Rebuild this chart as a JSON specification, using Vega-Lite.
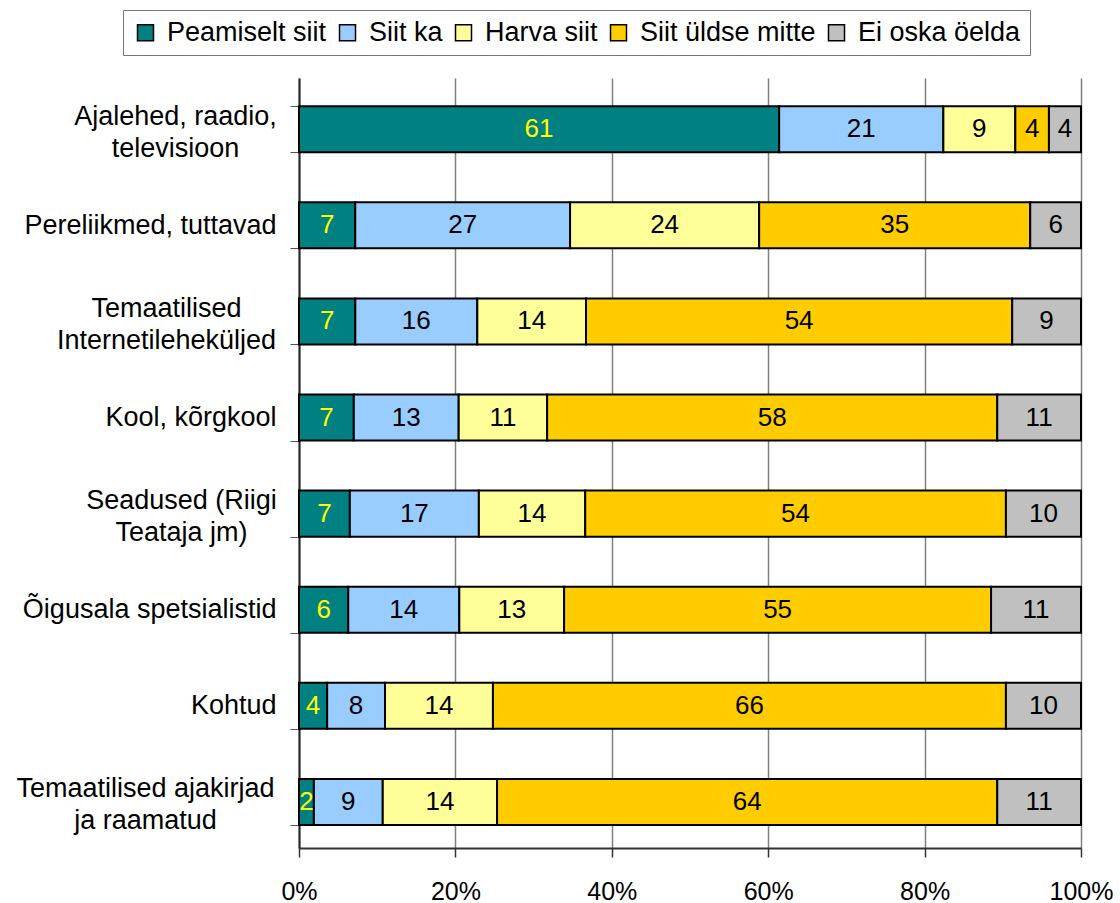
{
  "$schema": "https://vega.github.io/schema/vega-lite/v6.json",
  "autosize": {"type": "none"},
  "padding": {"left": 299, "top": 78, "right": 39, "bottom": 55},
  "width": 782,
  "height": 770,
  "background": "white",
  "config": {"font": "Liberation Sans", "view": {"stroke": null}},
  "data": {"values": [
    {"c": "Ajalehed, raadio,|televisioon", "s": "Peamiselt siit", "o": 1, "v": 61.4, "t": "61"},
    {"c": "Ajalehed, raadio,|televisioon", "s": "Siit ka", "o": 2, "v": 21.0, "t": "21"},
    {"c": "Ajalehed, raadio,|televisioon", "s": "Harva siit", "o": 3, "v": 9.2, "t": "9"},
    {"c": "Ajalehed, raadio,|televisioon", "s": "Siit üldse mitte", "o": 4, "v": 4.3, "t": "4"},
    {"c": "Ajalehed, raadio,|televisioon", "s": "Ei oska öelda", "o": 5, "v": 4.1, "t": "4"},
    {"c": "Pereliikmed, tuttavad", "s": "Peamiselt siit", "o": 1, "v": 7.2, "t": "7"},
    {"c": "Pereliikmed, tuttavad", "s": "Siit ka", "o": 2, "v": 27.5, "t": "27"},
    {"c": "Pereliikmed, tuttavad", "s": "Harva siit", "o": 3, "v": 24.2, "t": "24"},
    {"c": "Pereliikmed, tuttavad", "s": "Siit üldse mitte", "o": 4, "v": 34.7, "t": "35"},
    {"c": "Pereliikmed, tuttavad", "s": "Ei oska öelda", "o": 5, "v": 6.5, "t": "6"},
    {"c": "Temaatilised|Internetileheküljed", "s": "Peamiselt siit", "o": 1, "v": 7.2, "t": "7"},
    {"c": "Temaatilised|Internetileheküljed", "s": "Siit ka", "o": 2, "v": 15.6, "t": "16"},
    {"c": "Temaatilised|Internetileheküljed", "s": "Harva siit", "o": 3, "v": 13.9, "t": "14"},
    {"c": "Temaatilised|Internetileheküljed", "s": "Siit üldse mitte", "o": 4, "v": 54.5, "t": "54"},
    {"c": "Temaatilised|Internetileheküljed", "s": "Ei oska öelda", "o": 5, "v": 8.8, "t": "9"},
    {"c": "Kool, kõrgkool", "s": "Peamiselt siit", "o": 1, "v": 7.0, "t": "7"},
    {"c": "Kool, kõrgkool", "s": "Siit ka", "o": 2, "v": 13.4, "t": "13"},
    {"c": "Kool, kõrgkool", "s": "Harva siit", "o": 3, "v": 11.3, "t": "11"},
    {"c": "Kool, kõrgkool", "s": "Siit üldse mitte", "o": 4, "v": 57.5, "t": "58"},
    {"c": "Kool, kõrgkool", "s": "Ei oska öelda", "o": 5, "v": 10.7, "t": "11"},
    {"c": "Seadused (Riigi|Teataja jm)", "s": "Peamiselt siit", "o": 1, "v": 6.5, "t": "7"},
    {"c": "Seadused (Riigi|Teataja jm)", "s": "Siit ka", "o": 2, "v": 16.5, "t": "17"},
    {"c": "Seadused (Riigi|Teataja jm)", "s": "Harva siit", "o": 3, "v": 13.6, "t": "14"},
    {"c": "Seadused (Riigi|Teataja jm)", "s": "Siit üldse mitte", "o": 4, "v": 53.8, "t": "54"},
    {"c": "Seadused (Riigi|Teataja jm)", "s": "Ei oska öelda", "o": 5, "v": 9.6, "t": "10"},
    {"c": "Õigusala spetsialistid", "s": "Peamiselt siit", "o": 1, "v": 6.3, "t": "6"},
    {"c": "Õigusala spetsialistid", "s": "Siit ka", "o": 2, "v": 14.2, "t": "14"},
    {"c": "Õigusala spetsialistid", "s": "Harva siit", "o": 3, "v": 13.4, "t": "13"},
    {"c": "Õigusala spetsialistid", "s": "Siit üldse mitte", "o": 4, "v": 54.6, "t": "55"},
    {"c": "Õigusala spetsialistid", "s": "Ei oska öelda", "o": 5, "v": 11.5, "t": "11"},
    {"c": "Kohtud", "s": "Peamiselt siit", "o": 1, "v": 3.6, "t": "4"},
    {"c": "Kohtud", "s": "Siit ka", "o": 2, "v": 7.4, "t": "8"},
    {"c": "Kohtud", "s": "Harva siit", "o": 3, "v": 13.8, "t": "14"},
    {"c": "Kohtud", "s": "Siit üldse mitte", "o": 4, "v": 65.6, "t": "66"},
    {"c": "Kohtud", "s": "Ei oska öelda", "o": 5, "v": 9.6, "t": "10"},
    {"c": "Temaatilised ajakirjad|ja raamatud", "s": "Peamiselt siit", "o": 1, "v": 1.9, "t": "2"},
    {"c": "Temaatilised ajakirjad|ja raamatud", "s": "Siit ka", "o": 2, "v": 8.8, "t": "9"},
    {"c": "Temaatilised ajakirjad|ja raamatud", "s": "Harva siit", "o": 3, "v": 14.6, "t": "14"},
    {"c": "Temaatilised ajakirjad|ja raamatud", "s": "Siit üldse mitte", "o": 4, "v": 63.9, "t": "64"},
    {"c": "Temaatilised ajakirjad|ja raamatud", "s": "Ei oska öelda", "o": 5, "v": 10.7, "t": "11"}
  ]},
  "transform": [
    {"stack": "v", "groupby": ["c"], "sort": [{"field": "o", "order": "ascending"}], "offset": "normalize", "as": ["x0", "x1"]},
    {"calculate": "(datum.x0 + datum.x1) / 2", "as": "xm"}
  ],
  "encoding": {
    "y": {
      "field": "c", "type": "nominal", "title": null,
      "sort": ["Ajalehed, raadio,|televisioon", "Pereliikmed, tuttavad", "Temaatilised|Internetileheküljed", "Kool, kõrgkool", "Seadused (Riigi|Teataja jm)", "Õigusala spetsialistid", "Kohtud", "Temaatilised ajakirjad|ja raamatud"],
      "scale": {"paddingInner": 0.521, "paddingOuter": 0.267, "align": 0.55},
      "axis": {
        "labelExpr": "isString(datum.value) ? split(datum.value, '|') : ''",
        "labelFontSize": 27, "labelColor": "black", "labelLineHeight": 32, "labelLimit": 0,
        "labelAlign": {"condition": {"test": "isString(datum.value) && indexof(datum.value, '|') >= 0", "value": "center"}, "value": "right"},
        "labelOffset": {"condition": {"test": "isString(datum.value) && indexof(datum.value, '|') >= 0", "value": -13}, "value": 0},
        "labelPadding": {"condition": [
          {"test": "datum.value == 'Ajalehed, raadio,|televisioon'", "value": 115},
          {"test": "datum.value == 'Temaatilised|Internetileheküljed'", "value": 124},
          {"test": "datum.value == 'Seadused (Riigi|Teataja jm)'", "value": 109},
          {"test": "datum.value == 'Temaatilised ajakirjad|ja raamatud'", "value": 145}
        ], "value": 14},
        "tickBand": "extent", "tickSize": 9, "tickColor": "#555", "tickWidth": 1,
        "domainColor": "#222", "domainWidth": 2, "grid": false
      }
    }
  },
  "layer": [
    {
      "mark": {"type": "bar", "stroke": "black", "strokeWidth": 2},
      "encoding": {
        "x": {
          "field": "x0", "type": "quantitative", "title": null,
          "scale": {"domain": [0, 1], "nice": false},
          "axis": {
            "values": [0, 0.2, 0.4, 0.6, 0.8, 1], "format": "%", "labelFlush": false,
            "labelFontSize": 25, "labelColor": "black", "labelPadding": 22,
            "tickSize": 9, "tickColor": "#333", "tickWidth": 1.5,
            "domainColor": "#333", "domainWidth": 2,
            "grid": true, "gridColor": "#808080", "gridWidth": 1.5
          }
        },
        "x2": {"field": "x1"},
        "color": {
          "field": "s", "type": "nominal",
          "scale": {
            "domain": ["Peamiselt siit", "Siit ka", "Harva siit", "Siit üldse mitte", "Ei oska öelda"],
            "range": ["#008080", "#99CCFF", "#FFFF99", "#FFCC00", "#C0C0C0"]
          },
          "legend": {
            "orient": "none", "legendX": -176, "legendY": -68, "direction": "horizontal",
            "title": null, "strokeColor": "#777", "fillColor": "white", "padding": 9,
            "symbolType": "square", "symbolSize": 256, "symbolStrokeColor": "black", "symbolStrokeWidth": 1.5,
            "labelFontSize": 27, "labelColor": "black", "labelOffset": 8, "columnPadding": 7, "labelLimit": 0
          }
        }
      }
    },
    {
      "mark": {"type": "text", "fontSize": 26, "baseline": "middle", "align": "center"},
      "encoding": {
        "x": {"field": "xm", "type": "quantitative"},
        "text": {"field": "t", "type": "nominal"},
        "color": {
          "condition": {"test": "datum.o == 1", "value": "#FFFF00"},
          "value": "black"
        }
      }
    }
  ]
}
